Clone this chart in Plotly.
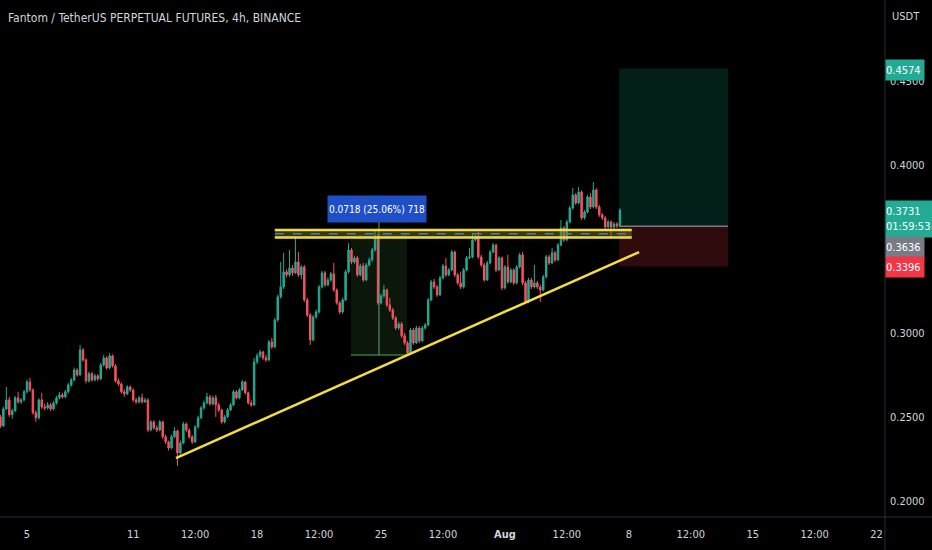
"""
Fantom / TetherUS perpetual, 4h candles (Binance) with the drawn
resistance band, rising trendline, price-range tool and long position box.
"""

import pandas as pd
import plotly.graph_objects as go

##################################
## Data
##################################

first_open = 0.2501
start_time = "2022-07-03 12:00"

closes = [
    0.2447, 0.2548, 0.2602, 0.2513, 0.2537, 0.2614, 0.2590, 0.2602, 0.2650, 0.2709,
    0.2661, 0.2525, 0.2495, 0.2602, 0.2560, 0.2554, 0.2572, 0.2548, 0.2584, 0.2614,
    0.2632, 0.2620, 0.2650, 0.2691, 0.2721, 0.2780, 0.2751, 0.2899, 0.2840, 0.2715,
    0.2757, 0.2721, 0.2745, 0.2727, 0.2810, 0.2852, 0.2792, 0.2864, 0.2804, 0.2715,
    0.2697, 0.2650, 0.2638, 0.2679, 0.2661, 0.2602, 0.2590, 0.2614, 0.2590, 0.2602,
    0.2423, 0.2471, 0.2435, 0.2423, 0.2471, 0.2382, 0.2352, 0.2316, 0.2382, 0.2417,
    0.2286, 0.2346, 0.2459, 0.2423, 0.2382, 0.2352, 0.2441, 0.2495, 0.2554, 0.2584,
    0.2620, 0.2578, 0.2614, 0.2572, 0.2542, 0.2471, 0.2501, 0.2542, 0.2572, 0.2650,
    0.2614, 0.2661, 0.2709, 0.2644, 0.2584, 0.2572, 0.2828, 0.2864, 0.2887, 0.2852,
    0.2840, 0.2947, 0.2917, 0.3078, 0.3215, 0.3274, 0.3364, 0.3346, 0.3387, 0.3358,
    0.3423, 0.3346, 0.3393, 0.3197, 0.3107, 0.2959, 0.3095, 0.3125, 0.3274, 0.3358,
    0.3286, 0.3316, 0.3352, 0.3256, 0.3179, 0.3125, 0.3197, 0.3364, 0.3494, 0.3423,
    0.3447, 0.3346, 0.3399, 0.3316, 0.3405, 0.3435, 0.3494, 0.3572, 0.3179, 0.3221,
    0.3256, 0.3167, 0.3137, 0.3090, 0.3030, 0.3054, 0.2983, 0.2941, 0.2882, 0.3018,
    0.2941, 0.3030, 0.2953, 0.3030, 0.3048, 0.3197, 0.3304, 0.3274, 0.3227, 0.3328,
    0.3399, 0.3346, 0.3375, 0.3482, 0.3346, 0.3298, 0.3274, 0.3375, 0.3447, 0.3453,
    0.3554, 0.3572, 0.3453, 0.3405, 0.3316, 0.3417, 0.3482, 0.3524, 0.3375, 0.3447,
    0.3268, 0.3393, 0.3304, 0.3375, 0.3298, 0.3393, 0.3465, 0.3298, 0.3185, 0.3316,
    0.3274, 0.3298, 0.3274, 0.3256, 0.3334, 0.3453, 0.3417, 0.3477, 0.3435, 0.3524,
    0.3625, 0.3554, 0.3661, 0.3744, 0.3822, 0.3774, 0.3839, 0.3685, 0.3720, 0.3810,
    0.3750, 0.3851, 0.3750, 0.3703, 0.3685, 0.3631, 0.3661, 0.3631, 0.3649, 0.3637,
    0.3731,
]

highs = [
    0.2513, 0.2560, 0.2680, 0.2620, 0.2550, 0.2625, 0.2650, 0.2612, 0.2662, 0.2722,
    0.2733, 0.2670, 0.2540, 0.2612, 0.2644, 0.2580, 0.2590, 0.2585, 0.2596, 0.2626,
    0.2650, 0.2645, 0.2662, 0.2703, 0.2733, 0.2795, 0.2790, 0.2929, 0.2911, 0.2850,
    0.2770, 0.2768, 0.2758, 0.2755, 0.2822, 0.2870, 0.2862, 0.2880, 0.2872, 0.2815,
    0.2730, 0.2705, 0.2665, 0.2690, 0.2688, 0.2670, 0.2615, 0.2625, 0.2640, 0.2615,
    0.2612, 0.2482, 0.2480, 0.2450, 0.2482, 0.2478, 0.2395, 0.2360, 0.2395, 0.2440,
    0.2425, 0.2360, 0.2471, 0.2468, 0.2432, 0.2392, 0.2452, 0.2508, 0.2566, 0.2598,
    0.2644, 0.2632, 0.2626, 0.2632, 0.2585, 0.2550, 0.2512, 0.2555, 0.2585, 0.2662,
    0.2660, 0.2672, 0.2721, 0.2715, 0.2652, 0.2600, 0.2852, 0.2880, 0.2899, 0.2895,
    0.2870, 0.2959, 0.2971, 0.3090, 0.3227, 0.3423, 0.3477, 0.3380, 0.3494, 0.3405,
    0.3572, 0.3482, 0.3405, 0.3405, 0.3210, 0.3120, 0.3107, 0.3140, 0.3286, 0.3370,
    0.3370, 0.3330, 0.3364, 0.3417, 0.3265, 0.3190, 0.3210, 0.3375, 0.3536, 0.3506,
    0.3460, 0.3458, 0.3412, 0.3417, 0.3417, 0.3450, 0.3506, 0.3608, 0.3590, 0.3233,
    0.3286, 0.3265, 0.3209, 0.3149, 0.3100, 0.3066, 0.3066, 0.3000, 0.2953, 0.3030,
    0.3030, 0.3042, 0.3040, 0.3042, 0.3060, 0.3209, 0.3316, 0.3322, 0.3286, 0.3340,
    0.3411, 0.3447, 0.3387, 0.3494, 0.3490, 0.3358, 0.3364, 0.3387, 0.3459, 0.3506,
    0.3596, 0.3584, 0.3602, 0.3465, 0.3417, 0.3429, 0.3494, 0.3536, 0.3530, 0.3459,
    0.3455, 0.3405, 0.3465, 0.3387, 0.3385, 0.3405, 0.3477, 0.3482, 0.3310, 0.3328,
    0.3328, 0.3405, 0.3310, 0.3286, 0.3346, 0.3465, 0.3465, 0.3506, 0.3488, 0.3536,
    0.3673, 0.3637, 0.3673, 0.3756, 0.3863, 0.3834, 0.3869, 0.3850, 0.3732, 0.3822,
    0.3833, 0.3899, 0.3862, 0.3762, 0.3715, 0.3697, 0.3673, 0.3670, 0.3661, 0.3660,
    0.3743,
]

lows = [
    0.2435, 0.2440, 0.2540, 0.2500, 0.2490, 0.2530, 0.2580, 0.2578, 0.2595, 0.2640,
    0.2650, 0.2515, 0.2471, 0.2485, 0.2548, 0.2540, 0.2545, 0.2536, 0.2540, 0.2575,
    0.2605, 0.2610, 0.2612, 0.2640, 0.2680, 0.2712, 0.2740, 0.2745, 0.2830, 0.2700,
    0.2705, 0.2710, 0.2712, 0.2715, 0.2720, 0.2800, 0.2782, 0.2785, 0.2795, 0.2705,
    0.2685, 0.2640, 0.2620, 0.2630, 0.2650, 0.2590, 0.2578, 0.2580, 0.2580, 0.2585,
    0.2410, 0.2415, 0.2425, 0.2410, 0.2415, 0.2370, 0.2340, 0.2300, 0.2308, 0.2375,
    0.2209, 0.2270, 0.2338, 0.2410, 0.2370, 0.2340, 0.2345, 0.2432, 0.2488, 0.2545,
    0.2575, 0.2568, 0.2570, 0.2501, 0.2530, 0.2460, 0.2462, 0.2494, 0.2535, 0.2565,
    0.2605, 0.2605, 0.2655, 0.2635, 0.2575, 0.2560, 0.2565, 0.2815, 0.2852, 0.2840,
    0.2828, 0.2832, 0.2905, 0.2910, 0.3066, 0.3205, 0.3262, 0.3330, 0.3335, 0.3340,
    0.3350, 0.3334, 0.3320, 0.3185, 0.3095, 0.2929, 0.2950, 0.3085, 0.3115, 0.3265,
    0.3275, 0.3278, 0.3305, 0.3245, 0.3168, 0.3113, 0.3115, 0.3190, 0.3355, 0.3410,
    0.3412, 0.3334, 0.3338, 0.3305, 0.3308, 0.3395, 0.3425, 0.3485, 0.3167, 0.3170,
    0.3210, 0.3155, 0.3125, 0.3078, 0.3018, 0.3020, 0.2971, 0.2929, 0.2864, 0.2876,
    0.2930, 0.2935, 0.2941, 0.2945, 0.3020, 0.3040, 0.3190, 0.3262, 0.3215, 0.3220,
    0.3320, 0.3334, 0.3338, 0.3368, 0.3334, 0.3286, 0.3262, 0.3265, 0.3368, 0.3440,
    0.3445, 0.3545, 0.3441, 0.3393, 0.3304, 0.3310, 0.3410, 0.3475, 0.3363, 0.3368,
    0.3256, 0.3260, 0.3292, 0.3295, 0.3286, 0.3290, 0.3385, 0.3286, 0.3173, 0.3178,
    0.3262, 0.3265, 0.3262, 0.3185, 0.3248, 0.3325, 0.3405, 0.3410, 0.3423, 0.3428,
    0.3515, 0.3542, 0.3545, 0.3652, 0.3735, 0.3762, 0.3765, 0.3673, 0.3675, 0.3712,
    0.3738, 0.3742, 0.3738, 0.3691, 0.3673, 0.3613, 0.3622, 0.3572, 0.3620, 0.3625,
    0.3630,
]

# time axis labels
tick_times = [
    "2022-07-05", "2022-07-11", "2022-07-14 12:00", "2022-07-18", "2022-07-21 12:00",
    "2022-07-25", "2022-07-28 12:00", "2022-08-01", "2022-08-04 12:00", "2022-08-08",
    "2022-08-11 12:00", "2022-08-15", "2022-08-18 12:00", "2022-08-22",
]
tick_labels = [
    "5", "11", "12:00", "18", "12:00", "25", "12:00", "<b>Aug</b>", "12:00", "8",
    "12:00", "15", "12:00", "22",
]
# 0.3500 is hidden behind the price labels in the original
price_ticks = [0.20, 0.25, 0.30, 0.40, 0.45]

# drawings on the chart
trend_start = ("2022-07-13 10:00", 0.2256)
trend_end = ("2022-08-08 14:00", 0.3482)
zone_start, zone_end = "2022-07-19 00:00", "2022-08-08 04:00"
zone_low, zone_high = 0.3569, 0.3613
range_start, range_end, range_mid = "2022-07-23 07:20", "2022-07-26 11:15", "2022-07-24 21:15"
range_low, range_high = 0.2869, 0.3587
range_text = "0.0718 (25.06%) 718"
pos_start, pos_end = "2022-08-07 11:00", "2022-08-13 14:30"
target, entry, stop = 0.4574, 0.3636, 0.3396
last_price, countdown = 0.3731, "01:59:53"

x_range = ["2022-07-03 11:24", "2022-08-22 11:24"]
y_range = [0.1905, 0.4982]

times = pd.date_range(start_time, periods=len(closes), freq="4h")
opens = [first_open] + closes[:-1]

UP = "#22ab94"
DOWN = "#f7525f"
TEXT = "#d1d4dc"
YELLOW = "#f2de3c"
FONT = "DejaVu Sans Condensed, Roboto Condensed, Roboto, sans-serif"

##################################
## Chart
##################################

fig = go.Figure()

fig.add_trace(
    go.Candlestick(
        x=times,
        open=opens,
        high=highs,
        low=lows,
        close=closes,
        increasing=dict(line=dict(color=UP, width=1), fillcolor=UP),
        decreasing=dict(line=dict(color=DOWN, width=1), fillcolor=DOWN),
        whiskerwidth=0,
        showlegend=False,
        hoverinfo="skip",
    )
)

# price range tool
fig.add_shape(type="rect", x0=range_start, x1=range_end, y0=range_low, y1=range_high,
              fillcolor="rgba(76,175,80,0.13)", line_width=0, layer="below")
fig.add_shape(type="line", x0=range_start, x1=range_end, y0=range_low, y1=range_low,
              line=dict(color="#4caf50", width=1))
fig.add_shape(type="line", x0=range_mid, x1=range_mid, y0=range_low, y1=0.3661,
              line=dict(color="#6aa378", width=1))

# resistance band
fig.add_shape(type="rect", x0=zone_start, x1=zone_end, y0=zone_low, y1=zone_high,
              fillcolor="rgba(120,120,60,0.45)", line_width=0)
for lvl in (zone_low, zone_high):
    fig.add_shape(type="line", x0=zone_start, x1=zone_end, y0=lvl, y1=lvl,
                  line=dict(color=YELLOW, width=2.5))
fig.add_shape(type="line", x0=zone_start, x1=zone_end,
              y0=(zone_low + zone_high) / 2, y1=(zone_low + zone_high) / 2,
              line=dict(color="#4f7bb5", width=1.5, dash="dash"))

# rising trendline
fig.add_shape(type="line", x0=trend_start[0], y0=trend_start[1], x1=trend_end[0], y1=trend_end[1],
              line=dict(color=YELLOW, width=2.5))

# long position
fig.add_shape(type="rect", x0=pos_start, x1=pos_end, y0=entry, y1=target,
              fillcolor="rgba(8,153,129,0.2)", line_width=0, layer="below")
fig.add_shape(type="rect", x0=pos_start, x1=pos_end, y0=stop, y1=entry,
              fillcolor="rgba(242,54,69,0.2)", line_width=0, layer="below")
fig.add_shape(type="line", x0=pos_start, x1=pos_end, y0=entry, y1=entry,
              line=dict(color="#787b86", width=1.5))

# pane separators
fig.add_shape(type="line", xref="paper", yref="paper", x0=0, x1=932 / 885, y0=0, y1=0,
              line=dict(color="#2a2e39", width=1))
fig.add_shape(type="line", xref="paper", yref="paper", x0=1, x1=1, y0=-33 / 517, y1=1,
              line=dict(color="#2a2e39", width=1))

# price range label
fig.add_annotation(x="2022-07-24 19:10", y=0.3738, text=range_text, showarrow=False,
                   bgcolor="#1f4fc6", width=96, height=24,
                   font=dict(color="#ffffff", size=10, family=FONT))

# title and axis currency
fig.add_annotation(xref="paper", yref="paper", x=0, y=1, xshift=6, yshift=-18,
                   xanchor="left", yanchor="middle", showarrow=False,
                   text="Fantom / TetherUS PERPETUAL FUTURES, 4h, BINANCE",
                   font=dict(color=TEXT, size=12, family=FONT))
fig.add_annotation(xref="paper", yref="paper", x=1, y=1, xshift=5, yshift=-16,
                   xanchor="left", yanchor="middle", showarrow=False, text="USDT",
                   font=dict(color=TEXT, size=11, family=FONT))

# price scale labels
scale_labels = [
    (f"{target:.4f}", UP, 1 - 70 / 517, 20, 38),
    (f"{last_price:.4f}<br>{countdown}", UP, 1 - 219 / 517, 36, 46),
    (f"{entry:.4f}", "#787b86", 1 - 247 / 517, 20, 38),
    (f"{stop:.4f}", "#f23645", 1 - 267 / 517, 20, 38),
]
for text, color, ypos, h, w in scale_labels:
    fig.add_annotation(xref="paper", yref="paper", x=1, y=ypos, xanchor="left",
                       yanchor="middle", showarrow=False, text=text, align="left",
                       bgcolor=color, height=h, width=w, borderpad=0,
                       font=dict(color="#ffffff", size=11, family=FONT))

fig.update_layout(
    width=932,
    height=550,
    margin=dict(l=0, r=47, t=0, b=33),
    paper_bgcolor="#000000",
    plot_bgcolor="#000000",
    hovermode=False,
    font=dict(family=FONT, color=TEXT, size=11),
)

fig.update_xaxes(
    type="date",
    range=x_range,
    tickvals=tick_times,
    ticktext=tick_labels,
    showgrid=False,
    zeroline=False,
    rangeslider_visible=False,
    ticklabelstandoff=9,
    tickfont=dict(color=TEXT, size=11, family=FONT),
)

fig.update_yaxes(
    side="right",
    range=y_range,
    tickvals=price_ticks,
    tickformat=".4f",
    showgrid=False,
    zeroline=False,
    ticklabelstandoff=4,
    tickfont=dict(color=TEXT, size=11, family=FONT),
)

# the page gets no body margin, so the figure sits at the window's corner
fig.write_html(
    "out.html",
    config={"displayModeBar": False},
    post_script="document.body.style.margin='0';",
)
